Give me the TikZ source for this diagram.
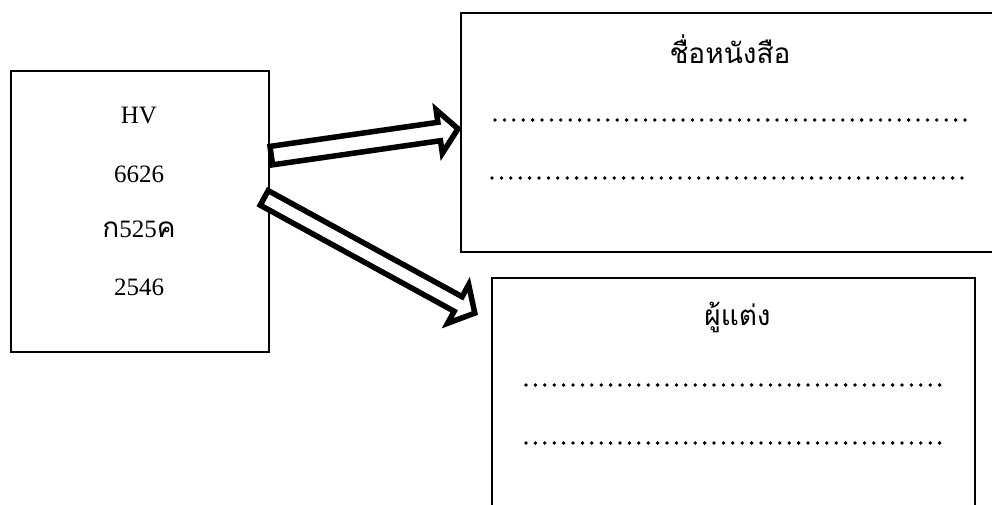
\documentclass[tikz,border=0pt]{standalone}
\usepackage{fontspec}
\setmainfont{Liberation Serif}
\newfontfamily\thaifont[Script=Thai]{Loma}
\usetikzlibrary{calc}
\tikzset{
  boxstyle/.style={draw=black,line width=1.6pt},
  lbl/.style={anchor=base,inner sep=0pt,font=\fontsize{25}{30}\selectfont},
  thaititle/.style={anchor=base,inner sep=0pt,font=\thaifont\fontsize{28}{34}\selectfont},
  blockarr/.style={draw=black,fill=white,line width=5.5pt,line join=miter},
  dotrow/.style={line width=3.8pt,line cap=round,dash pattern=on 0pt off 9.4pt},
}
\begin{document}
\begin{tikzpicture}[x=1pt,y=-1pt]
\useasboundingbox (0,0) rectangle (992,504);
% boxes
\draw[boxstyle] (11,71) rectangle (269,352);
\draw[boxstyle] (461,13) rectangle (1010,252);
\draw[boxstyle] (492,278) rectangle (975,530);
% left texts
\node[lbl] (hv) at (139,123) {HV};
\node[lbl] (n1) at (139,182) {6626};
\node[lbl] (n2) at (139,237) {{\thaifont\fontsize{28}{30}\selectfont ก}525{\thaifont\fontsize{28}{30}\selectfont ค}};
\node[lbl] (n3) at (139,295) {2546};
% titles
\node[thaititle] (t1) at (730,63) {ชื่อหนังสือ};
\node[thaititle] (t2) at (737.5,325) {ผู้แต่ง};
% dotted rows
\draw[dotrow] (495,120) -- (965,120);
\draw[dotrow] (492,178) -- (970,178);
\draw[dotrow] (526,385) -- (940,385);
\draw[dotrow] (526,443) -- (940,443);
% arrows
\coordinate (tailA) at (271.3,155.6);
\coordinate (tipA) at (458,128.8);
\coordinate (headA) at ($(tipA)!19pt!(tailA)$);
\draw[blockarr] ($(tailA)!9.3pt!90:(tipA)$) -- ($(headA)!9.3pt!90:(tipA)$) -- ($(headA)!22pt!90:(tipA)$) -- (tipA) -- ($(headA)!22pt!-90:(tipA)$) -- ($(headA)!9.3pt!-90:(tipA)$) -- ($(tailA)!9.3pt!-90:(tipA)$) -- cycle;
\coordinate (tailB) at (264.2,197.9);
\coordinate (tipB) at (474.8,313.1);
\coordinate (headB) at ($(tipB)!19pt!(tailB)$);
\draw[blockarr] ($(tailB)!8.3pt!90:(tipB)$) -- ($(headB)!8.3pt!90:(tipB)$) -- ($(headB)!22pt!90:(tipB)$) -- (tipB) -- ($(headB)!22pt!-90:(tipB)$) -- ($(headB)!8.3pt!-90:(tipB)$) -- ($(tailB)!8.3pt!-90:(tipB)$) -- cycle;
\end{tikzpicture}
\end{document}
